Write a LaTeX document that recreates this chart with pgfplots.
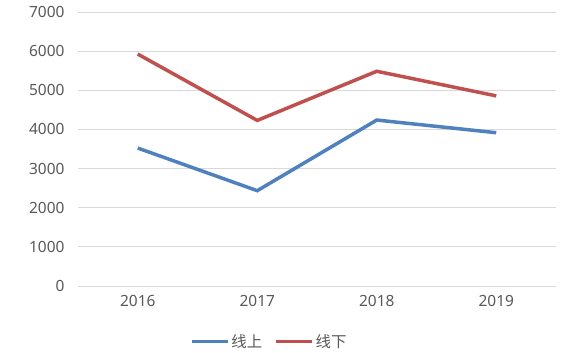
\documentclass[border=0pt]{standalone}
\usepackage{fontspec}
\setmainfont{Noto Sans}
\newfontfamily\cjk{Noto Sans CJK SC}
\usepackage{pgfplots}
\pgfplotsset{compat=1.18}
\definecolor{blueline}{HTML}{4F81BD}
\definecolor{redline}{HTML}{C0504D}
\definecolor{gridc}{HTML}{D9D9D9}
\definecolor{textc}{HTML}{595959}
\begin{document}
\begin{tikzpicture}
\useasboundingbox (0,0) rectangle (561bp,353bp);
\begin{axis}[
  at={(78bp,67bp)}, anchor=south west,
  scale only axis, width=478bp, height=274bp,
  xmin=-0.5, xmax=3.5, ymin=0, ymax=7000,
  xtick={0,1,2,3}, xticklabels={2016,2017,2018,2019},
  ytick={0,1000,...,7000},
  axis line style={draw=none},
  major tick length=0pt,
  ymajorgrids, grid style={gridc, line width=0.8bp},
  tick label style={font=\fontsize{15.5}{18}\selectfont, text=textc},
  /pgf/number format/assume math mode=true,
  /pgf/number format/1000 sep={},
  yticklabel style={xshift=-10bp},
  xticklabel style={yshift=-6bp},
  legend style={at={(0.4,-0.16)}, anchor=north, draw=none, legend columns=2,
    font=\cjk\fontsize{15.5}{18}\selectfont, text=textc,
    /tikz/every even column/.append style={column sep=10bp}},
  legend image code/.code={\draw[#1, line width=3.5bp] (0bp,0bp) -- (36bp,0bp);},
]
\addplot[blueline, line width=3.5bp] coordinates {(0,3524) (1,2435) (2,4240) (3,3916)};
\addlegendentry{线上}
\addplot[redline, line width=3.5bp] coordinates {(0,5925) (1,4230) (2,5486) (3,4857)};
\addlegendentry{线下}
\end{axis}
\end{tikzpicture}
\end{document}
